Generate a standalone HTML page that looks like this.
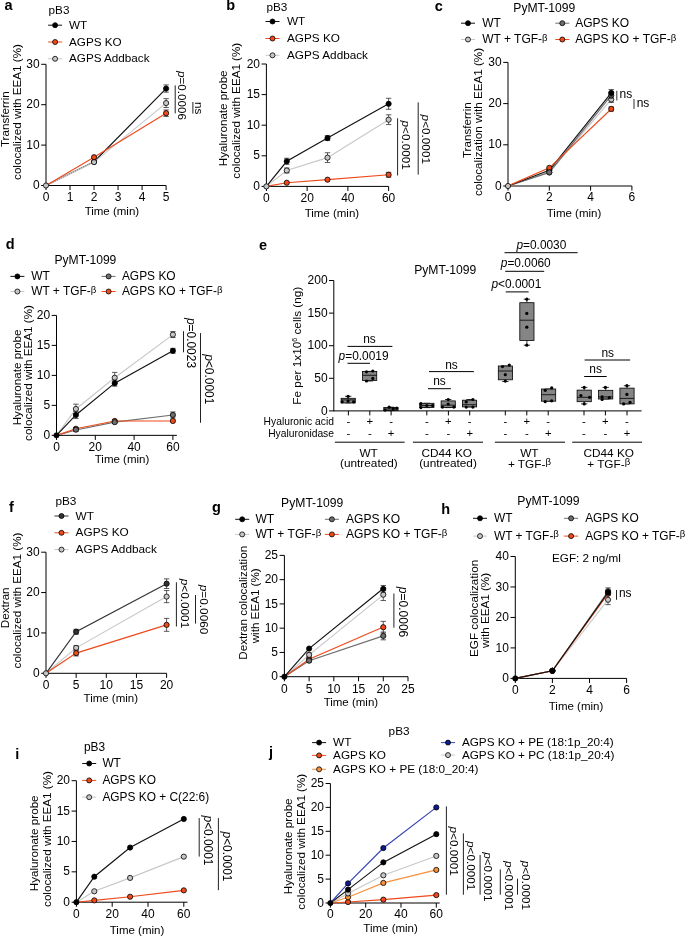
<!DOCTYPE html>
<html><head><meta charset="utf-8"><style>
html,body{margin:0;padding:0;background:#fff;}
svg{display:block;will-change:transform;}
text{font-family:"Liberation Sans",sans-serif;}
</style></head><body>
<svg width="685" height="936" viewBox="0 0 685 936" font-family="Liberation Sans, sans-serif">
<rect width="685" height="936" fill="#fff"/>
<text x="4.40" y="10.40" font-size="14.5" font-weight="bold">a</text>
<text x="48.60" y="14.00" font-size="11.7">pB3</text>
<line x1="48.10" y1="25.20" x2="62.10" y2="25.20" stroke="#111111" stroke-width="1.0"/>
<circle cx="55.10" cy="25.20" r="2.5" fill="#000000" stroke="#000" stroke-width="0.8"/>
<text x="69.00" y="28.80" font-size="11.7">WT</text>
<line x1="48.10" y1="42.00" x2="62.10" y2="42.00" stroke="#EE4A1A" stroke-width="1.0"/>
<circle cx="55.10" cy="42.00" r="2.5" fill="#EE4A1A" stroke="#000" stroke-width="0.8"/>
<text x="69.00" y="45.60" font-size="11.7">AGPS KO</text>
<line x1="48.10" y1="58.80" x2="62.10" y2="58.80" stroke="#C8C8C8" stroke-width="1.0"/>
<circle cx="55.10" cy="58.80" r="2.5" fill="#C6C6C6" stroke="#000" stroke-width="0.8"/>
<text x="69.00" y="62.40" font-size="11.7">AGPS Addback</text>
<line x1="46.00" y1="64.30" x2="46.00" y2="185.50" stroke="#000" stroke-width="1.0"/>
<line x1="46.00" y1="185.50" x2="166.10" y2="185.50" stroke="#000" stroke-width="1.0"/>
<line x1="41.20" y1="185.50" x2="46.00" y2="185.50" stroke="#000" stroke-width="1.0"/>
<text x="39.60" y="189.10" font-size="12.0" text-anchor="end">0</text>
<line x1="41.20" y1="145.10" x2="46.00" y2="145.10" stroke="#000" stroke-width="1.0"/>
<text x="39.60" y="148.70" font-size="12.0" text-anchor="end">10</text>
<line x1="41.20" y1="104.70" x2="46.00" y2="104.70" stroke="#000" stroke-width="1.0"/>
<text x="39.60" y="108.30" font-size="12.0" text-anchor="end">20</text>
<line x1="41.20" y1="64.30" x2="46.00" y2="64.30" stroke="#000" stroke-width="1.0"/>
<text x="39.60" y="67.90" font-size="12.0" text-anchor="end">30</text>
<line x1="46.00" y1="185.50" x2="46.00" y2="190.10" stroke="#000" stroke-width="1.0"/>
<text x="46.00" y="200.80" font-size="12.0" text-anchor="middle">0</text>
<line x1="70.02" y1="185.50" x2="70.02" y2="190.10" stroke="#000" stroke-width="1.0"/>
<text x="70.02" y="200.80" font-size="12.0" text-anchor="middle">1</text>
<line x1="94.04" y1="185.50" x2="94.04" y2="190.10" stroke="#000" stroke-width="1.0"/>
<text x="94.04" y="200.80" font-size="12.0" text-anchor="middle">2</text>
<line x1="118.06" y1="185.50" x2="118.06" y2="190.10" stroke="#000" stroke-width="1.0"/>
<text x="118.06" y="200.80" font-size="12.0" text-anchor="middle">3</text>
<line x1="142.08" y1="185.50" x2="142.08" y2="190.10" stroke="#000" stroke-width="1.0"/>
<text x="142.08" y="200.80" font-size="12.0" text-anchor="middle">4</text>
<line x1="166.10" y1="185.50" x2="166.10" y2="190.10" stroke="#000" stroke-width="1.0"/>
<text x="166.10" y="200.80" font-size="12.0" text-anchor="middle">5</text>
<text transform="translate(8.80,119.20) rotate(-90)" font-size="11.65" text-anchor="middle">Transferrin</text>
<text transform="translate(21.00,112.00) rotate(-90)" font-size="11.65" text-anchor="middle">colocalized with EEA1 (%)</text>
<text x="111.90" y="215.20" font-size="11.5" text-anchor="middle">Time (min)</text>
<polyline points="46.00,185.50 94.04,161.66 166.10,88.54" fill="none" stroke="#111111" stroke-width="1.15"/>
<polyline points="46.00,185.50 94.04,162.07 166.10,103.08" fill="none" stroke="#C8C8C8" stroke-width="1.15"/>
<polyline points="46.00,185.50 94.04,157.22 166.10,113.18" fill="none" stroke="#EE4A1A" stroke-width="1.15"/>
<circle cx="94.04" cy="161.66" r="2.6" fill="#000000" stroke="#000" stroke-width="0.8"/>
<line x1="166.10" y1="84.90" x2="166.10" y2="92.18" stroke="#333" stroke-width="0.8"/>
<line x1="163.40" y1="84.90" x2="168.80" y2="84.90" stroke="#333" stroke-width="0.8"/>
<line x1="163.40" y1="92.18" x2="168.80" y2="92.18" stroke="#333" stroke-width="0.8"/>
<circle cx="166.10" cy="88.54" r="2.6" fill="#000000" stroke="#000" stroke-width="0.8"/>
<circle cx="46.00" cy="185.50" r="2.6" fill="#C6C6C6" stroke="#000" stroke-width="0.8"/>
<circle cx="94.04" cy="162.07" r="2.6" fill="#C6C6C6" stroke="#000" stroke-width="0.8"/>
<line x1="166.10" y1="98.64" x2="166.10" y2="107.53" stroke="#333" stroke-width="0.8"/>
<line x1="163.40" y1="98.64" x2="168.80" y2="98.64" stroke="#333" stroke-width="0.8"/>
<line x1="163.40" y1="107.53" x2="168.80" y2="107.53" stroke="#333" stroke-width="0.8"/>
<circle cx="166.10" cy="103.08" r="2.6" fill="#C6C6C6" stroke="#000" stroke-width="0.8"/>
<circle cx="94.04" cy="157.22" r="2.6" fill="#EE4A1A" stroke="#000" stroke-width="0.8"/>
<line x1="166.10" y1="109.95" x2="166.10" y2="116.42" stroke="#333" stroke-width="0.8"/>
<line x1="163.40" y1="109.95" x2="168.80" y2="109.95" stroke="#333" stroke-width="0.8"/>
<line x1="163.40" y1="116.42" x2="168.80" y2="116.42" stroke="#333" stroke-width="0.8"/>
<circle cx="166.10" cy="113.18" r="2.6" fill="#EE4A1A" stroke="#000" stroke-width="0.8"/>
<line x1="175.20" y1="85.40" x2="175.20" y2="113.40" stroke="#222" stroke-width="1.0"/>
<text transform="translate(177.90,71.00) rotate(90)" font-size="11.7"><tspan font-style="italic">p</tspan>=0.0006</text>
<line x1="192.90" y1="102.00" x2="192.90" y2="113.60" stroke="#222" stroke-width="1.0"/>
<text transform="translate(195.40,102.00) rotate(90)" font-size="11.7">ns</text>
<text x="226.30" y="10.40" font-size="14.5" font-weight="bold">b</text>
<text x="266.50" y="11.40" font-size="11.75">pB3</text>
<line x1="265.50" y1="21.50" x2="279.50" y2="21.50" stroke="#111111" stroke-width="1.0"/>
<circle cx="272.50" cy="21.50" r="2.5" fill="#000000" stroke="#000" stroke-width="0.8"/>
<text x="287.00" y="25.10" font-size="11.75">WT</text>
<line x1="265.50" y1="38.50" x2="279.50" y2="38.50" stroke="#EE4A1A" stroke-width="1.0"/>
<circle cx="272.50" cy="38.50" r="2.5" fill="#EE4A1A" stroke="#000" stroke-width="0.8"/>
<text x="287.00" y="42.10" font-size="11.75">AGPS KO</text>
<line x1="265.50" y1="55.30" x2="279.50" y2="55.30" stroke="#C8C8C8" stroke-width="1.0"/>
<circle cx="272.50" cy="55.30" r="2.5" fill="#C6C6C6" stroke="#000" stroke-width="0.8"/>
<text x="287.00" y="58.90" font-size="11.75">AGPS Addback</text>
<line x1="266.40" y1="64.00" x2="266.40" y2="186.40" stroke="#000" stroke-width="1.0"/>
<line x1="266.40" y1="186.40" x2="388.62" y2="186.40" stroke="#000" stroke-width="1.0"/>
<line x1="261.60" y1="186.40" x2="266.40" y2="186.40" stroke="#000" stroke-width="1.0"/>
<text x="260.00" y="190.00" font-size="12.0" text-anchor="end">0</text>
<line x1="261.60" y1="155.80" x2="266.40" y2="155.80" stroke="#000" stroke-width="1.0"/>
<text x="260.00" y="159.40" font-size="12.0" text-anchor="end">5</text>
<line x1="261.60" y1="125.20" x2="266.40" y2="125.20" stroke="#000" stroke-width="1.0"/>
<text x="260.00" y="128.80" font-size="12.0" text-anchor="end">10</text>
<line x1="261.60" y1="94.60" x2="266.40" y2="94.60" stroke="#000" stroke-width="1.0"/>
<text x="260.00" y="98.20" font-size="12.0" text-anchor="end">15</text>
<line x1="261.60" y1="64.00" x2="266.40" y2="64.00" stroke="#000" stroke-width="1.0"/>
<text x="260.00" y="67.60" font-size="12.0" text-anchor="end">20</text>
<line x1="266.40" y1="186.40" x2="266.40" y2="191.00" stroke="#000" stroke-width="1.0"/>
<text x="266.40" y="201.70" font-size="12.0" text-anchor="middle">0</text>
<line x1="307.14" y1="186.40" x2="307.14" y2="191.00" stroke="#000" stroke-width="1.0"/>
<text x="307.14" y="201.70" font-size="12.0" text-anchor="middle">20</text>
<line x1="347.88" y1="186.40" x2="347.88" y2="191.00" stroke="#000" stroke-width="1.0"/>
<text x="347.88" y="201.70" font-size="12.0" text-anchor="middle">40</text>
<line x1="388.62" y1="186.40" x2="388.62" y2="191.00" stroke="#000" stroke-width="1.0"/>
<text x="388.62" y="201.70" font-size="12.0" text-anchor="middle">60</text>
<text transform="translate(227.00,118.30) rotate(-90)" font-size="11.65" text-anchor="middle">Hyaluronate probe</text>
<text transform="translate(239.80,110.70) rotate(-90)" font-size="11.65" text-anchor="middle">colocalized with EEA1 (%)</text>
<text x="331.90" y="217.40" font-size="11.5" text-anchor="middle">Time (min)</text>
<polyline points="266.40,186.40 286.77,170.49 327.51,157.64 388.62,119.69" fill="none" stroke="#C8C8C8" stroke-width="1.15"/>
<polyline points="266.40,186.40 286.77,161.31 327.51,138.05 388.62,103.78" fill="none" stroke="#111111" stroke-width="1.15"/>
<polyline points="266.40,186.40 286.77,182.73 327.51,179.67 388.62,174.77" fill="none" stroke="#EE4A1A" stroke-width="1.15"/>
<circle cx="266.40" cy="186.40" r="2.6" fill="#C6C6C6" stroke="#000" stroke-width="0.8"/>
<line x1="286.77" y1="168.04" x2="286.77" y2="172.94" stroke="#333" stroke-width="0.8"/>
<line x1="284.07" y1="168.04" x2="289.47" y2="168.04" stroke="#333" stroke-width="0.8"/>
<line x1="284.07" y1="172.94" x2="289.47" y2="172.94" stroke="#333" stroke-width="0.8"/>
<circle cx="286.77" cy="170.49" r="2.6" fill="#C6C6C6" stroke="#000" stroke-width="0.8"/>
<line x1="327.51" y1="152.74" x2="327.51" y2="162.53" stroke="#333" stroke-width="0.8"/>
<line x1="324.81" y1="152.74" x2="330.21" y2="152.74" stroke="#333" stroke-width="0.8"/>
<line x1="324.81" y1="162.53" x2="330.21" y2="162.53" stroke="#333" stroke-width="0.8"/>
<circle cx="327.51" cy="157.64" r="2.6" fill="#C6C6C6" stroke="#000" stroke-width="0.8"/>
<line x1="388.62" y1="114.80" x2="388.62" y2="124.59" stroke="#333" stroke-width="0.8"/>
<line x1="385.92" y1="114.80" x2="391.32" y2="114.80" stroke="#333" stroke-width="0.8"/>
<line x1="385.92" y1="124.59" x2="391.32" y2="124.59" stroke="#333" stroke-width="0.8"/>
<circle cx="388.62" cy="119.69" r="2.6" fill="#C6C6C6" stroke="#000" stroke-width="0.8"/>
<line x1="286.77" y1="158.25" x2="286.77" y2="164.37" stroke="#333" stroke-width="0.8"/>
<line x1="284.07" y1="158.25" x2="289.47" y2="158.25" stroke="#333" stroke-width="0.8"/>
<line x1="284.07" y1="164.37" x2="289.47" y2="164.37" stroke="#333" stroke-width="0.8"/>
<circle cx="286.77" cy="161.31" r="2.6" fill="#000000" stroke="#000" stroke-width="0.8"/>
<line x1="327.51" y1="135.60" x2="327.51" y2="140.50" stroke="#333" stroke-width="0.8"/>
<line x1="324.81" y1="135.60" x2="330.21" y2="135.60" stroke="#333" stroke-width="0.8"/>
<line x1="324.81" y1="140.50" x2="330.21" y2="140.50" stroke="#333" stroke-width="0.8"/>
<circle cx="327.51" cy="138.05" r="2.6" fill="#000000" stroke="#000" stroke-width="0.8"/>
<line x1="388.62" y1="98.27" x2="388.62" y2="109.29" stroke="#333" stroke-width="0.8"/>
<line x1="385.92" y1="98.27" x2="391.32" y2="98.27" stroke="#333" stroke-width="0.8"/>
<line x1="385.92" y1="109.29" x2="391.32" y2="109.29" stroke="#333" stroke-width="0.8"/>
<circle cx="388.62" cy="103.78" r="2.6" fill="#000000" stroke="#000" stroke-width="0.8"/>
<circle cx="286.77" cy="182.73" r="2.6" fill="#EE4A1A" stroke="#000" stroke-width="0.8"/>
<circle cx="327.51" cy="179.67" r="2.6" fill="#EE4A1A" stroke="#000" stroke-width="0.8"/>
<line x1="388.62" y1="172.32" x2="388.62" y2="177.22" stroke="#333" stroke-width="0.8"/>
<line x1="385.92" y1="172.32" x2="391.32" y2="172.32" stroke="#333" stroke-width="0.8"/>
<line x1="385.92" y1="177.22" x2="391.32" y2="177.22" stroke="#333" stroke-width="0.8"/>
<circle cx="388.62" cy="174.77" r="2.6" fill="#EE4A1A" stroke="#000" stroke-width="0.8"/>
<line x1="397.60" y1="118.30" x2="397.60" y2="175.50" stroke="#222" stroke-width="1.0"/>
<text transform="translate(401.80,120.50) rotate(90)" font-size="11.75"><tspan font-style="italic">p</tspan>&lt;0.0001</text>
<line x1="418.20" y1="102.40" x2="418.20" y2="174.60" stroke="#222" stroke-width="1.0"/>
<text transform="translate(422.20,114.60) rotate(90)" font-size="11.75"><tspan font-style="italic">p</tspan>&lt;0.0001</text>
<text x="434.80" y="10.70" font-size="14.5" font-weight="bold">c</text>
<text x="513.30" y="11.50" font-size="12.15">PyMT-1099</text>
<line x1="461.00" y1="23.20" x2="475.00" y2="23.20" stroke="#111111" stroke-width="1.0"/>
<circle cx="468.00" cy="23.20" r="2.5" fill="#000000" stroke="#000" stroke-width="0.8"/>
<text x="482.20" y="26.80" font-size="12.0">WT</text>
<line x1="555.30" y1="23.20" x2="569.30" y2="23.20" stroke="#6E6E6E" stroke-width="1.0"/>
<circle cx="562.30" cy="23.20" r="2.5" fill="#6E6E6E" stroke="#000" stroke-width="0.8"/>
<text x="575.20" y="26.80" font-size="12.0">AGPS KO</text>
<line x1="461.00" y1="39.50" x2="475.00" y2="39.50" stroke="#C8C8C8" stroke-width="1.0"/>
<circle cx="468.00" cy="39.50" r="2.5" fill="#C6C6C6" stroke="#000" stroke-width="0.8"/>
<text x="482.20" y="43.10" font-size="12.0">WT + TGF-<tspan font-size="9.6" dy="-2.3">β</tspan></text>
<line x1="555.30" y1="39.50" x2="569.30" y2="39.50" stroke="#EE4A1A" stroke-width="1.0"/>
<circle cx="562.30" cy="39.50" r="2.5" fill="#EE4A1A" stroke="#000" stroke-width="0.8"/>
<text x="575.20" y="43.10" font-size="12.0">AGPS KO + TGF-<tspan font-size="9.6" dy="-2.3">β</tspan></text>
<line x1="508.00" y1="62.40" x2="508.00" y2="186.00" stroke="#000" stroke-width="1.0"/>
<line x1="508.00" y1="186.00" x2="631.90" y2="186.00" stroke="#000" stroke-width="1.0"/>
<line x1="503.20" y1="186.00" x2="508.00" y2="186.00" stroke="#000" stroke-width="1.0"/>
<text x="501.60" y="189.60" font-size="12.0" text-anchor="end">0</text>
<line x1="503.20" y1="144.80" x2="508.00" y2="144.80" stroke="#000" stroke-width="1.0"/>
<text x="501.60" y="148.40" font-size="12.0" text-anchor="end">10</text>
<line x1="503.20" y1="103.60" x2="508.00" y2="103.60" stroke="#000" stroke-width="1.0"/>
<text x="501.60" y="107.20" font-size="12.0" text-anchor="end">20</text>
<line x1="503.20" y1="62.40" x2="508.00" y2="62.40" stroke="#000" stroke-width="1.0"/>
<text x="501.60" y="66.00" font-size="12.0" text-anchor="end">30</text>
<line x1="508.00" y1="186.00" x2="508.00" y2="190.60" stroke="#000" stroke-width="1.0"/>
<text x="508.00" y="201.30" font-size="12.0" text-anchor="middle">0</text>
<line x1="549.30" y1="186.00" x2="549.30" y2="190.60" stroke="#000" stroke-width="1.0"/>
<text x="549.30" y="201.30" font-size="12.0" text-anchor="middle">2</text>
<line x1="590.60" y1="186.00" x2="590.60" y2="190.60" stroke="#000" stroke-width="1.0"/>
<text x="590.60" y="201.30" font-size="12.0" text-anchor="middle">4</text>
<line x1="631.90" y1="186.00" x2="631.90" y2="190.60" stroke="#000" stroke-width="1.0"/>
<text x="631.90" y="201.30" font-size="12.0" text-anchor="middle">6</text>
<text transform="translate(471.20,130.20) rotate(-90)" font-size="11.65" text-anchor="middle">Transferrin</text>
<text transform="translate(482.00,122.00) rotate(-90)" font-size="11.65" text-anchor="middle">colocalization with EEA1 (%)</text>
<text x="574.00" y="216.50" font-size="11.5" text-anchor="middle">Time (min)</text>
<polyline points="508.00,186.00 549.30,172.40 611.25,99.48" fill="none" stroke="#C8C8C8" stroke-width="1.15"/>
<polyline points="508.00,186.00 549.30,172.40 611.25,95.36" fill="none" stroke="#6E6E6E" stroke-width="1.15"/>
<polyline points="508.00,186.00 549.30,170.34 611.25,92.89" fill="none" stroke="#111111" stroke-width="1.15"/>
<polyline points="508.00,186.00 549.30,167.87 611.25,108.96" fill="none" stroke="#EE4A1A" stroke-width="1.15"/>
<circle cx="549.30" cy="170.34" r="2.6" fill="#000000" stroke="#000" stroke-width="0.8"/>
<circle cx="508.00" cy="186.00" r="2.6" fill="#C6C6C6" stroke="#000" stroke-width="0.8"/>
<circle cx="549.30" cy="172.40" r="2.6" fill="#C6C6C6" stroke="#000" stroke-width="0.8"/>
<line x1="611.25" y1="96.60" x2="611.25" y2="102.36" stroke="#333" stroke-width="0.8"/>
<line x1="608.55" y1="96.60" x2="613.95" y2="96.60" stroke="#333" stroke-width="0.8"/>
<line x1="608.55" y1="102.36" x2="613.95" y2="102.36" stroke="#333" stroke-width="0.8"/>
<circle cx="611.25" cy="99.48" r="2.6" fill="#C6C6C6" stroke="#000" stroke-width="0.8"/>
<circle cx="549.30" cy="167.87" r="2.6" fill="#EE4A1A" stroke="#000" stroke-width="0.8"/>
<line x1="611.25" y1="106.90" x2="611.25" y2="111.02" stroke="#333" stroke-width="0.8"/>
<line x1="608.55" y1="106.90" x2="613.95" y2="106.90" stroke="#333" stroke-width="0.8"/>
<line x1="608.55" y1="111.02" x2="613.95" y2="111.02" stroke="#333" stroke-width="0.8"/>
<circle cx="611.25" cy="108.96" r="2.6" fill="#EE4A1A" stroke="#000" stroke-width="0.8"/>
<circle cx="549.30" cy="172.40" r="2.6" fill="#6E6E6E" stroke="#000" stroke-width="0.8"/>
<line x1="611.25" y1="92.48" x2="611.25" y2="98.24" stroke="#333" stroke-width="0.8"/>
<line x1="608.55" y1="92.48" x2="613.95" y2="92.48" stroke="#333" stroke-width="0.8"/>
<line x1="608.55" y1="98.24" x2="613.95" y2="98.24" stroke="#333" stroke-width="0.8"/>
<circle cx="611.25" cy="95.36" r="2.6" fill="#6E6E6E" stroke="#000" stroke-width="0.8"/>
<line x1="611.25" y1="89.59" x2="611.25" y2="96.18" stroke="#333" stroke-width="0.8"/>
<line x1="608.55" y1="89.59" x2="613.95" y2="89.59" stroke="#333" stroke-width="0.8"/>
<line x1="608.55" y1="96.18" x2="613.95" y2="96.18" stroke="#333" stroke-width="0.8"/>
<circle cx="611.25" cy="92.89" r="2.6" fill="#000000" stroke="#000" stroke-width="0.8"/>
<line x1="616.80" y1="90.80" x2="616.80" y2="100.50" stroke="#333" stroke-width="1.0"/>
<text x="619.50" y="98.40" font-size="12.0">ns</text>
<line x1="634.00" y1="99.00" x2="634.00" y2="108.90" stroke="#333" stroke-width="1.0"/>
<text x="636.70" y="106.80" font-size="12.0">ns</text>
<text x="5.80" y="249.40" font-size="14.5" font-weight="bold">d</text>
<text x="54.50" y="264.20" font-size="12.1">PyMT-1099</text>
<line x1="10.40" y1="276.40" x2="24.40" y2="276.40" stroke="#111111" stroke-width="1.0"/>
<circle cx="17.40" cy="276.40" r="2.5" fill="#000000" stroke="#000" stroke-width="0.8"/>
<text x="31.20" y="280.00" font-size="11.95">WT</text>
<line x1="101.60" y1="276.40" x2="115.60" y2="276.40" stroke="#6E6E6E" stroke-width="1.0"/>
<circle cx="108.60" cy="276.40" r="2.5" fill="#6E6E6E" stroke="#000" stroke-width="0.8"/>
<text x="121.90" y="280.00" font-size="11.95">AGPS KO</text>
<line x1="10.40" y1="291.50" x2="24.40" y2="291.50" stroke="#C8C8C8" stroke-width="1.0"/>
<circle cx="17.40" cy="291.50" r="2.5" fill="#C6C6C6" stroke="#000" stroke-width="0.8"/>
<text x="31.20" y="295.10" font-size="11.95">WT + TGF-<tspan font-size="9.6" dy="-2.3">β</tspan></text>
<line x1="101.60" y1="291.50" x2="115.60" y2="291.50" stroke="#EE4A1A" stroke-width="1.0"/>
<circle cx="108.60" cy="291.50" r="2.5" fill="#EE4A1A" stroke="#000" stroke-width="0.8"/>
<text x="121.90" y="295.10" font-size="11.95">AGPS KO + TGF-<tspan font-size="9.6" dy="-2.3">β</tspan></text>
<line x1="56.50" y1="315.40" x2="56.50" y2="435.35" stroke="#000" stroke-width="1.0"/>
<line x1="56.50" y1="435.35" x2="176.90" y2="435.35" stroke="#000" stroke-width="1.0"/>
<line x1="51.70" y1="435.35" x2="56.50" y2="435.35" stroke="#000" stroke-width="1.0"/>
<text x="50.10" y="438.95" font-size="12.0" text-anchor="end">0</text>
<line x1="51.70" y1="405.36" x2="56.50" y2="405.36" stroke="#000" stroke-width="1.0"/>
<text x="50.10" y="408.96" font-size="12.0" text-anchor="end">5</text>
<line x1="51.70" y1="375.38" x2="56.50" y2="375.38" stroke="#000" stroke-width="1.0"/>
<text x="50.10" y="378.98" font-size="12.0" text-anchor="end">10</text>
<line x1="51.70" y1="345.39" x2="56.50" y2="345.39" stroke="#000" stroke-width="1.0"/>
<text x="50.10" y="348.99" font-size="12.0" text-anchor="end">15</text>
<line x1="51.70" y1="315.40" x2="56.50" y2="315.40" stroke="#000" stroke-width="1.0"/>
<text x="50.10" y="319.00" font-size="12.0" text-anchor="end">20</text>
<line x1="56.50" y1="435.35" x2="56.50" y2="439.95" stroke="#000" stroke-width="1.0"/>
<text x="56.50" y="450.65" font-size="12.0" text-anchor="middle">0</text>
<line x1="95.30" y1="435.35" x2="95.30" y2="439.95" stroke="#000" stroke-width="1.0"/>
<text x="95.30" y="450.65" font-size="12.0" text-anchor="middle">20</text>
<line x1="134.10" y1="435.35" x2="134.10" y2="439.95" stroke="#000" stroke-width="1.0"/>
<text x="134.10" y="450.65" font-size="12.0" text-anchor="middle">40</text>
<line x1="172.90" y1="435.35" x2="172.90" y2="439.95" stroke="#000" stroke-width="1.0"/>
<text x="172.90" y="450.65" font-size="12.0" text-anchor="middle">60</text>
<text transform="translate(21.20,377.40) rotate(-90)" font-size="11.65" text-anchor="middle">Hyaluronate probe</text>
<text transform="translate(32.40,373.00) rotate(-90)" font-size="11.65" text-anchor="middle">colocalized with EEA1 (%)</text>
<text x="122.00" y="463.00" font-size="11.5" text-anchor="middle">Time (min)</text>
<polyline points="56.50,435.35 75.90,408.96 114.70,377.77 172.90,334.59" fill="none" stroke="#C8C8C8" stroke-width="1.15"/>
<polyline points="56.50,435.35 75.90,414.96 114.70,383.17 172.90,350.79" fill="none" stroke="#111111" stroke-width="1.15"/>
<polyline points="56.50,435.35 75.90,429.95 114.70,422.16 172.90,414.96" fill="none" stroke="#6E6E6E" stroke-width="1.15"/>
<polyline points="56.50,435.35 75.90,428.75 114.70,420.96 172.90,420.96" fill="none" stroke="#EE4A1A" stroke-width="1.15"/>
<line x1="75.90" y1="404.16" x2="75.90" y2="413.76" stroke="#333" stroke-width="0.8"/>
<line x1="73.20" y1="404.16" x2="78.60" y2="404.16" stroke="#333" stroke-width="0.8"/>
<line x1="73.20" y1="413.76" x2="78.60" y2="413.76" stroke="#333" stroke-width="0.8"/>
<circle cx="75.90" cy="408.96" r="2.6" fill="#C6C6C6" stroke="#000" stroke-width="0.8"/>
<line x1="114.70" y1="372.38" x2="114.70" y2="383.17" stroke="#333" stroke-width="0.8"/>
<line x1="112.00" y1="372.38" x2="117.40" y2="372.38" stroke="#333" stroke-width="0.8"/>
<line x1="112.00" y1="383.17" x2="117.40" y2="383.17" stroke="#333" stroke-width="0.8"/>
<circle cx="114.70" cy="377.77" r="2.6" fill="#C6C6C6" stroke="#000" stroke-width="0.8"/>
<line x1="172.90" y1="331.59" x2="172.90" y2="337.59" stroke="#333" stroke-width="0.8"/>
<line x1="170.20" y1="331.59" x2="175.60" y2="331.59" stroke="#333" stroke-width="0.8"/>
<line x1="170.20" y1="337.59" x2="175.60" y2="337.59" stroke="#333" stroke-width="0.8"/>
<circle cx="172.90" cy="334.59" r="2.6" fill="#C6C6C6" stroke="#000" stroke-width="0.8"/>
<line x1="75.90" y1="427.55" x2="75.90" y2="429.95" stroke="#333" stroke-width="0.8"/>
<line x1="73.20" y1="427.55" x2="78.60" y2="427.55" stroke="#333" stroke-width="0.8"/>
<line x1="73.20" y1="429.95" x2="78.60" y2="429.95" stroke="#333" stroke-width="0.8"/>
<circle cx="75.90" cy="428.75" r="2.6" fill="#EE4A1A" stroke="#000" stroke-width="0.8"/>
<circle cx="114.70" cy="420.96" r="2.6" fill="#EE4A1A" stroke="#000" stroke-width="0.8"/>
<circle cx="172.90" cy="420.96" r="2.6" fill="#EE4A1A" stroke="#000" stroke-width="0.8"/>
<line x1="75.90" y1="427.85" x2="75.90" y2="431.45" stroke="#333" stroke-width="0.8"/>
<line x1="73.20" y1="427.85" x2="78.60" y2="427.85" stroke="#333" stroke-width="0.8"/>
<line x1="73.20" y1="431.45" x2="78.60" y2="431.45" stroke="#333" stroke-width="0.8"/>
<circle cx="75.90" cy="429.65" r="2.6" fill="#6E6E6E" stroke="#000" stroke-width="0.8"/>
<line x1="114.70" y1="420.96" x2="114.70" y2="423.36" stroke="#333" stroke-width="0.8"/>
<line x1="112.00" y1="420.96" x2="117.40" y2="420.96" stroke="#333" stroke-width="0.8"/>
<line x1="112.00" y1="423.36" x2="117.40" y2="423.36" stroke="#333" stroke-width="0.8"/>
<circle cx="114.70" cy="422.16" r="2.6" fill="#6E6E6E" stroke="#000" stroke-width="0.8"/>
<line x1="172.90" y1="411.96" x2="172.90" y2="417.96" stroke="#333" stroke-width="0.8"/>
<line x1="170.20" y1="411.96" x2="175.60" y2="411.96" stroke="#333" stroke-width="0.8"/>
<line x1="170.20" y1="417.96" x2="175.60" y2="417.96" stroke="#333" stroke-width="0.8"/>
<circle cx="172.90" cy="414.96" r="2.6" fill="#6E6E6E" stroke="#000" stroke-width="0.8"/>
<circle cx="56.50" cy="435.35" r="2.6" fill="#000000" stroke="#000" stroke-width="0.8"/>
<line x1="75.90" y1="411.36" x2="75.90" y2="418.56" stroke="#333" stroke-width="0.8"/>
<line x1="73.20" y1="411.36" x2="78.60" y2="411.36" stroke="#333" stroke-width="0.8"/>
<line x1="73.20" y1="418.56" x2="78.60" y2="418.56" stroke="#333" stroke-width="0.8"/>
<circle cx="75.90" cy="414.96" r="2.6" fill="#000000" stroke="#000" stroke-width="0.8"/>
<line x1="114.70" y1="380.17" x2="114.70" y2="386.17" stroke="#333" stroke-width="0.8"/>
<line x1="112.00" y1="380.17" x2="117.40" y2="380.17" stroke="#333" stroke-width="0.8"/>
<line x1="112.00" y1="386.17" x2="117.40" y2="386.17" stroke="#333" stroke-width="0.8"/>
<circle cx="114.70" cy="383.17" r="2.6" fill="#000000" stroke="#000" stroke-width="0.8"/>
<line x1="172.90" y1="348.39" x2="172.90" y2="353.18" stroke="#333" stroke-width="0.8"/>
<line x1="170.20" y1="348.39" x2="175.60" y2="348.39" stroke="#333" stroke-width="0.8"/>
<line x1="170.20" y1="353.18" x2="175.60" y2="353.18" stroke="#333" stroke-width="0.8"/>
<circle cx="172.90" cy="350.79" r="2.6" fill="#000000" stroke="#000" stroke-width="0.8"/>
<line x1="183.50" y1="331.20" x2="183.50" y2="352.30" stroke="#222" stroke-width="1.0"/>
<text transform="translate(186.60,317.90) rotate(90)" font-size="11.95"><tspan font-style="italic">p</tspan>=0.0023</text>
<line x1="200.50" y1="333.10" x2="200.50" y2="422.80" stroke="#222" stroke-width="1.0"/>
<text transform="translate(205.20,354.20) rotate(90)" font-size="11.95"><tspan font-style="italic">p</tspan>&lt;0.0001</text>
<text x="259.00" y="249.70" font-size="14.5" font-weight="bold">e</text>
<text x="414.20" y="274.20" font-size="12.15">PyMT-1099</text>
<line x1="333.80" y1="280.50" x2="333.80" y2="411.40" stroke="#000" stroke-width="1.0"/>
<line x1="333.80" y1="410.90" x2="641.60" y2="410.90" stroke="#000" stroke-width="1.0"/>
<line x1="329.00" y1="410.90" x2="333.80" y2="410.90" stroke="#000" stroke-width="1.0"/>
<text x="327.60" y="414.50" font-size="12.0" text-anchor="end">0</text>
<line x1="329.00" y1="378.30" x2="333.80" y2="378.30" stroke="#000" stroke-width="1.0"/>
<text x="327.60" y="381.90" font-size="12.0" text-anchor="end">50</text>
<line x1="329.00" y1="345.70" x2="333.80" y2="345.70" stroke="#000" stroke-width="1.0"/>
<text x="327.60" y="349.30" font-size="12.0" text-anchor="end">100</text>
<line x1="329.00" y1="313.10" x2="333.80" y2="313.10" stroke="#000" stroke-width="1.0"/>
<text x="327.60" y="316.70" font-size="12.0" text-anchor="end">150</text>
<line x1="329.00" y1="280.50" x2="333.80" y2="280.50" stroke="#000" stroke-width="1.0"/>
<text x="327.60" y="284.10" font-size="12.0" text-anchor="end">200</text>
<text transform="translate(300.90,345.70) rotate(-90)" font-size="11.8" text-anchor="middle">Fe per 1x10<tspan font-size="7" dy="-4">6</tspan><tspan dy="4"> cells (ng)</tspan></text>
<line x1="348.40" y1="410.90" x2="348.40" y2="415.40" stroke="#000" stroke-width="1.0"/>
<line x1="369.80" y1="410.90" x2="369.80" y2="415.40" stroke="#000" stroke-width="1.0"/>
<line x1="391.10" y1="410.90" x2="391.10" y2="415.40" stroke="#000" stroke-width="1.0"/>
<line x1="426.80" y1="410.90" x2="426.80" y2="415.40" stroke="#000" stroke-width="1.0"/>
<line x1="448.40" y1="410.90" x2="448.40" y2="415.40" stroke="#000" stroke-width="1.0"/>
<line x1="469.70" y1="410.90" x2="469.70" y2="415.40" stroke="#000" stroke-width="1.0"/>
<line x1="505.30" y1="410.90" x2="505.30" y2="415.40" stroke="#000" stroke-width="1.0"/>
<line x1="526.80" y1="410.90" x2="526.80" y2="415.40" stroke="#000" stroke-width="1.0"/>
<line x1="548.20" y1="410.90" x2="548.20" y2="415.40" stroke="#000" stroke-width="1.0"/>
<line x1="584.00" y1="410.90" x2="584.00" y2="415.40" stroke="#000" stroke-width="1.0"/>
<line x1="605.40" y1="410.90" x2="605.40" y2="415.40" stroke="#000" stroke-width="1.0"/>
<line x1="627.00" y1="410.90" x2="627.00" y2="415.40" stroke="#000" stroke-width="1.0"/>
<text x="334.00" y="424.70" font-size="10.3" text-anchor="end">Hyaluronic acid</text>
<text x="334.00" y="437.00" font-size="10.3" text-anchor="end">Hyaluronidase</text>
<text x="348.40" y="425.00" font-size="11.3" text-anchor="middle">-</text>
<text x="348.40" y="437.20" font-size="11.3" text-anchor="middle">-</text>
<text x="369.80" y="425.00" font-size="11.3" text-anchor="middle">+</text>
<text x="369.80" y="437.20" font-size="11.3" text-anchor="middle">-</text>
<text x="391.10" y="425.00" font-size="11.3" text-anchor="middle">-</text>
<text x="391.10" y="437.20" font-size="11.3" text-anchor="middle">+</text>
<text x="426.80" y="425.00" font-size="11.3" text-anchor="middle">-</text>
<text x="426.80" y="437.20" font-size="11.3" text-anchor="middle">-</text>
<text x="448.40" y="425.00" font-size="11.3" text-anchor="middle">+</text>
<text x="448.40" y="437.20" font-size="11.3" text-anchor="middle">-</text>
<text x="469.70" y="425.00" font-size="11.3" text-anchor="middle">-</text>
<text x="469.70" y="437.20" font-size="11.3" text-anchor="middle">+</text>
<text x="505.30" y="425.00" font-size="11.3" text-anchor="middle">-</text>
<text x="505.30" y="437.20" font-size="11.3" text-anchor="middle">-</text>
<text x="526.80" y="425.00" font-size="11.3" text-anchor="middle">+</text>
<text x="526.80" y="437.20" font-size="11.3" text-anchor="middle">-</text>
<text x="548.20" y="425.00" font-size="11.3" text-anchor="middle">-</text>
<text x="548.20" y="437.20" font-size="11.3" text-anchor="middle">+</text>
<text x="584.00" y="425.00" font-size="11.3" text-anchor="middle">-</text>
<text x="584.00" y="437.20" font-size="11.3" text-anchor="middle">-</text>
<text x="605.40" y="425.00" font-size="11.3" text-anchor="middle">+</text>
<text x="605.40" y="437.20" font-size="11.3" text-anchor="middle">-</text>
<text x="627.00" y="425.00" font-size="11.3" text-anchor="middle">-</text>
<text x="627.00" y="437.20" font-size="11.3" text-anchor="middle">+</text>
<line x1="334.90" y1="442.20" x2="404.60" y2="442.20" stroke="#000" stroke-width="1.0"/>
<line x1="412.90" y1="442.20" x2="483.00" y2="442.20" stroke="#000" stroke-width="1.0"/>
<line x1="494.90" y1="442.20" x2="565.00" y2="442.20" stroke="#000" stroke-width="1.0"/>
<line x1="572.20" y1="442.20" x2="642.00" y2="442.20" stroke="#000" stroke-width="1.0"/>
<text x="368.60" y="456.50" font-size="11.8" text-anchor="middle">WT</text>
<text x="368.90" y="466.80" font-size="11.8" text-anchor="middle">(untreated)</text>
<text x="446.70" y="456.50" font-size="11.8" text-anchor="middle">CD44 KO</text>
<text x="448.00" y="466.80" font-size="11.8" text-anchor="middle">(untreated)</text>
<text x="529.40" y="456.50" font-size="11.8" text-anchor="middle">WT</text>
<text x="529.40" y="467.60" font-size="11.8" text-anchor="middle">+ TGF-<tspan font-size="9.6" dy="-2.3">β</tspan></text>
<text x="608.70" y="456.50" font-size="11.8" text-anchor="middle">CD44 KO</text>
<text x="608.70" y="467.60" font-size="11.8" text-anchor="middle">+ TGF-<tspan font-size="9.6" dy="-2.3">β</tspan></text>
<line x1="348.20" y1="396.30" x2="348.20" y2="398.30" stroke="#000" stroke-width="0.8"/>
<line x1="348.20" y1="402.90" x2="348.20" y2="402.90" stroke="#000" stroke-width="0.8"/>
<line x1="345.00" y1="396.30" x2="351.40" y2="396.30" stroke="#000" stroke-width="0.8"/>
<line x1="345.00" y1="402.90" x2="351.40" y2="402.90" stroke="#000" stroke-width="0.8"/>
<rect x="341.10" y="398.30" width="14.20" height="4.60" fill="#858585" stroke="#000" stroke-width="0.8"/>
<line x1="341.10" y1="399.90" x2="355.30" y2="399.90" stroke="#000" stroke-width="0.8"/>
<circle cx="348.10" cy="396.30" r="1.6" fill="#000" stroke="none" stroke-width="0"/>
<circle cx="342.20" cy="401.90" r="1.6" fill="#000" stroke="none" stroke-width="0"/>
<circle cx="348.10" cy="401.10" r="1.6" fill="#000" stroke="none" stroke-width="0"/>
<circle cx="353.60" cy="401.90" r="1.6" fill="#000" stroke="none" stroke-width="0"/>
<line x1="369.65" y1="371.40" x2="369.65" y2="371.40" stroke="#000" stroke-width="0.8"/>
<line x1="369.65" y1="380.40" x2="369.65" y2="381.00" stroke="#000" stroke-width="0.8"/>
<line x1="366.45" y1="371.40" x2="372.85" y2="371.40" stroke="#000" stroke-width="0.8"/>
<line x1="366.45" y1="381.00" x2="372.85" y2="381.00" stroke="#000" stroke-width="0.8"/>
<rect x="362.55" y="371.40" width="14.20" height="9.00" fill="#858585" stroke="#000" stroke-width="0.8"/>
<line x1="362.55" y1="375.30" x2="376.75" y2="375.30" stroke="#000" stroke-width="0.8"/>
<circle cx="366.50" cy="371.80" r="1.6" fill="#000" stroke="none" stroke-width="0"/>
<circle cx="372.80" cy="371.00" r="1.6" fill="#000" stroke="none" stroke-width="0"/>
<circle cx="372.80" cy="378.40" r="1.6" fill="#000" stroke="none" stroke-width="0"/>
<circle cx="366.50" cy="381.00" r="1.6" fill="#000" stroke="none" stroke-width="0"/>
<line x1="390.90" y1="407.20" x2="390.90" y2="407.50" stroke="#000" stroke-width="0.8"/>
<line x1="390.90" y1="410.60" x2="390.90" y2="410.60" stroke="#000" stroke-width="0.8"/>
<line x1="387.70" y1="407.20" x2="394.10" y2="407.20" stroke="#000" stroke-width="0.8"/>
<line x1="387.70" y1="410.60" x2="394.10" y2="410.60" stroke="#000" stroke-width="0.8"/>
<rect x="383.80" y="407.50" width="14.20" height="3.10" fill="#858585" stroke="#000" stroke-width="0.8"/>
<line x1="383.80" y1="409.00" x2="398.00" y2="409.00" stroke="#000" stroke-width="0.8"/>
<circle cx="385.10" cy="410.10" r="1.6" fill="#000" stroke="none" stroke-width="0"/>
<circle cx="389.20" cy="407.20" r="1.6" fill="#000" stroke="none" stroke-width="0"/>
<circle cx="393.20" cy="408.80" r="1.6" fill="#000" stroke="none" stroke-width="0"/>
<circle cx="396.80" cy="408.20" r="1.6" fill="#000" stroke="none" stroke-width="0"/>
<line x1="426.85" y1="403.30" x2="426.85" y2="403.30" stroke="#000" stroke-width="0.8"/>
<line x1="426.85" y1="407.60" x2="426.85" y2="407.60" stroke="#000" stroke-width="0.8"/>
<line x1="423.65" y1="403.30" x2="430.05" y2="403.30" stroke="#000" stroke-width="0.8"/>
<line x1="423.65" y1="407.60" x2="430.05" y2="407.60" stroke="#000" stroke-width="0.8"/>
<rect x="419.75" y="403.30" width="14.20" height="4.30" fill="#858585" stroke="#000" stroke-width="0.8"/>
<line x1="419.75" y1="405.50" x2="433.95" y2="405.50" stroke="#000" stroke-width="0.8"/>
<circle cx="420.90" cy="403.60" r="1.6" fill="#000" stroke="none" stroke-width="0"/>
<circle cx="420.90" cy="407.60" r="1.6" fill="#000" stroke="none" stroke-width="0"/>
<circle cx="432.60" cy="405.50" r="1.6" fill="#000" stroke="none" stroke-width="0"/>
<circle cx="426.80" cy="405.50" r="1.6" fill="#000" stroke="none" stroke-width="0"/>
<line x1="448.20" y1="399.50" x2="448.20" y2="400.90" stroke="#000" stroke-width="0.8"/>
<line x1="448.20" y1="407.60" x2="448.20" y2="407.60" stroke="#000" stroke-width="0.8"/>
<line x1="445.00" y1="399.50" x2="451.40" y2="399.50" stroke="#000" stroke-width="0.8"/>
<line x1="445.00" y1="407.60" x2="451.40" y2="407.60" stroke="#000" stroke-width="0.8"/>
<rect x="441.10" y="400.90" width="14.20" height="6.70" fill="#858585" stroke="#000" stroke-width="0.8"/>
<line x1="441.10" y1="405.20" x2="455.30" y2="405.20" stroke="#000" stroke-width="0.8"/>
<circle cx="448.20" cy="399.50" r="1.6" fill="#000" stroke="none" stroke-width="0"/>
<circle cx="448.20" cy="404.00" r="1.6" fill="#000" stroke="none" stroke-width="0"/>
<circle cx="442.50" cy="407.10" r="1.6" fill="#000" stroke="none" stroke-width="0"/>
<circle cx="453.90" cy="407.10" r="1.6" fill="#000" stroke="none" stroke-width="0"/>
<line x1="469.55" y1="399.50" x2="469.55" y2="400.20" stroke="#000" stroke-width="0.8"/>
<line x1="469.55" y1="406.90" x2="469.55" y2="406.90" stroke="#000" stroke-width="0.8"/>
<line x1="466.35" y1="399.50" x2="472.75" y2="399.50" stroke="#000" stroke-width="0.8"/>
<line x1="466.35" y1="406.90" x2="472.75" y2="406.90" stroke="#000" stroke-width="0.8"/>
<rect x="462.45" y="400.20" width="14.20" height="6.70" fill="#858585" stroke="#000" stroke-width="0.8"/>
<line x1="462.45" y1="404.70" x2="476.65" y2="404.70" stroke="#000" stroke-width="0.8"/>
<circle cx="472.90" cy="399.50" r="1.6" fill="#000" stroke="none" stroke-width="0"/>
<circle cx="466.20" cy="401.90" r="1.6" fill="#000" stroke="none" stroke-width="0"/>
<circle cx="466.20" cy="407.10" r="1.6" fill="#000" stroke="none" stroke-width="0"/>
<circle cx="472.90" cy="407.10" r="1.6" fill="#000" stroke="none" stroke-width="0"/>
<line x1="505.40" y1="366.00" x2="505.40" y2="366.00" stroke="#000" stroke-width="0.8"/>
<line x1="505.40" y1="379.80" x2="505.40" y2="381.50" stroke="#000" stroke-width="0.8"/>
<line x1="502.20" y1="366.00" x2="508.60" y2="366.00" stroke="#000" stroke-width="0.8"/>
<line x1="502.20" y1="381.50" x2="508.60" y2="381.50" stroke="#000" stroke-width="0.8"/>
<rect x="498.30" y="366.00" width="14.20" height="13.80" fill="#858585" stroke="#000" stroke-width="0.8"/>
<line x1="498.30" y1="371.00" x2="512.50" y2="371.00" stroke="#000" stroke-width="0.8"/>
<circle cx="502.50" cy="366.60" r="1.6" fill="#000" stroke="none" stroke-width="0"/>
<circle cx="509.30" cy="365.10" r="1.6" fill="#000" stroke="none" stroke-width="0"/>
<circle cx="505.30" cy="374.70" r="1.6" fill="#000" stroke="none" stroke-width="0"/>
<circle cx="505.30" cy="381.10" r="1.6" fill="#000" stroke="none" stroke-width="0"/>
<line x1="526.90" y1="299.20" x2="526.90" y2="302.70" stroke="#000" stroke-width="0.8"/>
<line x1="526.90" y1="340.40" x2="526.90" y2="345.20" stroke="#000" stroke-width="0.8"/>
<line x1="523.70" y1="299.20" x2="530.10" y2="299.20" stroke="#000" stroke-width="0.8"/>
<line x1="523.70" y1="345.20" x2="530.10" y2="345.20" stroke="#000" stroke-width="0.8"/>
<rect x="519.80" y="302.70" width="14.20" height="37.70" fill="#858585" stroke="#000" stroke-width="0.8"/>
<line x1="519.80" y1="320.20" x2="534.00" y2="320.20" stroke="#000" stroke-width="0.8"/>
<circle cx="526.80" cy="299.20" r="1.6" fill="#000" stroke="none" stroke-width="0"/>
<circle cx="526.80" cy="313.40" r="1.6" fill="#000" stroke="none" stroke-width="0"/>
<circle cx="526.80" cy="327.20" r="1.6" fill="#000" stroke="none" stroke-width="0"/>
<circle cx="526.80" cy="345.20" r="1.6" fill="#000" stroke="none" stroke-width="0"/>
<line x1="548.60" y1="389.00" x2="548.60" y2="389.00" stroke="#000" stroke-width="0.8"/>
<line x1="548.60" y1="401.20" x2="548.60" y2="401.20" stroke="#000" stroke-width="0.8"/>
<line x1="545.40" y1="389.00" x2="551.80" y2="389.00" stroke="#000" stroke-width="0.8"/>
<line x1="545.40" y1="401.20" x2="551.80" y2="401.20" stroke="#000" stroke-width="0.8"/>
<rect x="541.50" y="389.00" width="14.20" height="12.20" fill="#858585" stroke="#000" stroke-width="0.8"/>
<line x1="541.50" y1="394.70" x2="555.70" y2="394.70" stroke="#000" stroke-width="0.8"/>
<circle cx="545.20" cy="390.30" r="1.6" fill="#000" stroke="none" stroke-width="0"/>
<circle cx="551.70" cy="387.90" r="1.6" fill="#000" stroke="none" stroke-width="0"/>
<circle cx="545.20" cy="401.70" r="1.6" fill="#000" stroke="none" stroke-width="0"/>
<circle cx="551.70" cy="400.80" r="1.6" fill="#000" stroke="none" stroke-width="0"/>
<line x1="584.20" y1="387.40" x2="584.20" y2="390.10" stroke="#000" stroke-width="0.8"/>
<line x1="584.20" y1="401.70" x2="584.20" y2="403.90" stroke="#000" stroke-width="0.8"/>
<line x1="581.00" y1="387.40" x2="587.40" y2="387.40" stroke="#000" stroke-width="0.8"/>
<line x1="581.00" y1="403.90" x2="587.40" y2="403.90" stroke="#000" stroke-width="0.8"/>
<rect x="577.10" y="390.10" width="14.20" height="11.60" fill="#858585" stroke="#000" stroke-width="0.8"/>
<line x1="577.10" y1="397.30" x2="591.30" y2="397.30" stroke="#000" stroke-width="0.8"/>
<circle cx="584.20" cy="387.40" r="1.6" fill="#000" stroke="none" stroke-width="0"/>
<circle cx="580.90" cy="395.50" r="1.6" fill="#000" stroke="none" stroke-width="0"/>
<circle cx="589.60" cy="397.30" r="1.6" fill="#000" stroke="none" stroke-width="0"/>
<circle cx="584.20" cy="403.90" r="1.6" fill="#000" stroke="none" stroke-width="0"/>
<line x1="605.70" y1="387.40" x2="605.70" y2="390.30" stroke="#000" stroke-width="0.8"/>
<line x1="605.70" y1="399.00" x2="605.70" y2="399.00" stroke="#000" stroke-width="0.8"/>
<line x1="602.50" y1="387.40" x2="608.90" y2="387.40" stroke="#000" stroke-width="0.8"/>
<line x1="602.50" y1="399.00" x2="608.90" y2="399.00" stroke="#000" stroke-width="0.8"/>
<rect x="598.60" y="390.30" width="14.20" height="8.70" fill="#858585" stroke="#000" stroke-width="0.8"/>
<line x1="598.60" y1="396.90" x2="612.80" y2="396.90" stroke="#000" stroke-width="0.8"/>
<circle cx="605.40" cy="387.40" r="1.6" fill="#000" stroke="none" stroke-width="0"/>
<circle cx="602.10" cy="396.90" r="1.6" fill="#000" stroke="none" stroke-width="0"/>
<circle cx="602.10" cy="399.50" r="1.6" fill="#000" stroke="none" stroke-width="0"/>
<circle cx="609.30" cy="397.70" r="1.6" fill="#000" stroke="none" stroke-width="0"/>
<line x1="627.00" y1="385.70" x2="627.00" y2="388.10" stroke="#000" stroke-width="0.8"/>
<line x1="627.00" y1="403.90" x2="627.00" y2="403.90" stroke="#000" stroke-width="0.8"/>
<line x1="623.80" y1="385.70" x2="630.20" y2="385.70" stroke="#000" stroke-width="0.8"/>
<line x1="623.80" y1="403.90" x2="630.20" y2="403.90" stroke="#000" stroke-width="0.8"/>
<rect x="619.90" y="388.10" width="14.20" height="15.80" fill="#858585" stroke="#000" stroke-width="0.8"/>
<line x1="619.90" y1="398.40" x2="634.10" y2="398.40" stroke="#000" stroke-width="0.8"/>
<circle cx="626.90" cy="385.70" r="1.6" fill="#000" stroke="none" stroke-width="0"/>
<circle cx="626.90" cy="394.40" r="1.6" fill="#000" stroke="none" stroke-width="0"/>
<circle cx="623.60" cy="403.90" r="1.6" fill="#000" stroke="none" stroke-width="0"/>
<circle cx="630.00" cy="402.30" r="1.6" fill="#000" stroke="none" stroke-width="0"/>
<line x1="347.50" y1="346.40" x2="392.40" y2="346.40" stroke="#000" stroke-width="1.0"/>
<text x="369.50" y="343.10" font-size="11.95" text-anchor="middle">ns</text>
<line x1="347.50" y1="363.30" x2="370.00" y2="363.30" stroke="#000" stroke-width="1.0"/>
<text x="338.60" y="359.60" font-size="11.9"><tspan font-style="italic">p</tspan>=0.0019</text>
<line x1="428.00" y1="388.70" x2="450.90" y2="388.70" stroke="#000" stroke-width="1.0"/>
<text x="439.50" y="384.70" font-size="11.95" text-anchor="middle">ns</text>
<line x1="429.00" y1="371.60" x2="473.90" y2="371.60" stroke="#000" stroke-width="1.0"/>
<text x="451.50" y="369.00" font-size="11.95" text-anchor="middle">ns</text>
<line x1="504.50" y1="252.70" x2="577.60" y2="252.70" stroke="#000" stroke-width="1.0"/>
<text x="516.40" y="248.70" font-size="11.9"><tspan font-style="italic">p</tspan>=0.0030</text>
<line x1="505.20" y1="271.30" x2="544.20" y2="271.30" stroke="#000" stroke-width="1.0"/>
<text x="500.80" y="267.40" font-size="11.9"><tspan font-style="italic">p</tspan>=0.0060</text>
<line x1="505.70" y1="291.90" x2="528.60" y2="291.90" stroke="#000" stroke-width="1.0"/>
<text x="491.40" y="288.40" font-size="11.9"><tspan font-style="italic">p</tspan>&lt;0.0001</text>
<line x1="584.20" y1="376.50" x2="606.70" y2="376.50" stroke="#000" stroke-width="1.0"/>
<text x="595.60" y="372.80" font-size="11.95" text-anchor="middle">ns</text>
<line x1="584.60" y1="360.00" x2="630.10" y2="360.00" stroke="#000" stroke-width="1.0"/>
<text x="607.70" y="356.80" font-size="11.95" text-anchor="middle">ns</text>
<text x="8.90" y="512.20" font-size="14.5" font-weight="bold">f</text>
<text x="55.40" y="505.00" font-size="11.8">pB3</text>
<line x1="54.50" y1="516.00" x2="68.50" y2="516.00" stroke="#333333" stroke-width="1.0"/>
<circle cx="61.50" cy="516.00" r="2.5" fill="#333333" stroke="#000" stroke-width="0.8"/>
<text x="75.60" y="519.60" font-size="11.8">WT</text>
<line x1="54.50" y1="532.80" x2="68.50" y2="532.80" stroke="#EE4A1A" stroke-width="1.0"/>
<circle cx="61.50" cy="532.80" r="2.5" fill="#EE4A1A" stroke="#000" stroke-width="0.8"/>
<text x="75.60" y="536.40" font-size="11.8">AGPS KO</text>
<line x1="54.50" y1="549.60" x2="68.50" y2="549.60" stroke="#C8C8C8" stroke-width="1.0"/>
<circle cx="61.50" cy="549.60" r="2.5" fill="#C6C6C6" stroke="#000" stroke-width="0.8"/>
<text x="75.60" y="553.20" font-size="11.8">AGPS Addback</text>
<line x1="46.00" y1="552.19" x2="46.00" y2="673.30" stroke="#000" stroke-width="1.0"/>
<line x1="46.00" y1="673.30" x2="166.60" y2="673.30" stroke="#000" stroke-width="1.0"/>
<line x1="41.20" y1="673.30" x2="46.00" y2="673.30" stroke="#000" stroke-width="1.0"/>
<text x="39.60" y="676.90" font-size="12.0" text-anchor="end">0</text>
<line x1="41.20" y1="632.93" x2="46.00" y2="632.93" stroke="#000" stroke-width="1.0"/>
<text x="39.60" y="636.53" font-size="12.0" text-anchor="end">10</text>
<line x1="41.20" y1="592.56" x2="46.00" y2="592.56" stroke="#000" stroke-width="1.0"/>
<text x="39.60" y="596.16" font-size="12.0" text-anchor="end">20</text>
<line x1="41.20" y1="552.19" x2="46.00" y2="552.19" stroke="#000" stroke-width="1.0"/>
<text x="39.60" y="555.79" font-size="12.0" text-anchor="end">30</text>
<line x1="46.00" y1="673.30" x2="46.00" y2="677.90" stroke="#000" stroke-width="1.0"/>
<text x="46.00" y="689.20" font-size="12.0" text-anchor="middle">0</text>
<line x1="76.15" y1="673.30" x2="76.15" y2="677.90" stroke="#000" stroke-width="1.0"/>
<text x="76.15" y="689.20" font-size="12.0" text-anchor="middle">5</text>
<line x1="106.30" y1="673.30" x2="106.30" y2="677.90" stroke="#000" stroke-width="1.0"/>
<text x="106.30" y="689.20" font-size="12.0" text-anchor="middle">10</text>
<line x1="136.45" y1="673.30" x2="136.45" y2="677.90" stroke="#000" stroke-width="1.0"/>
<text x="136.45" y="689.20" font-size="12.0" text-anchor="middle">15</text>
<line x1="166.60" y1="673.30" x2="166.60" y2="677.90" stroke="#000" stroke-width="1.0"/>
<text x="166.60" y="689.20" font-size="12.0" text-anchor="middle">20</text>
<text transform="translate(9.40,607.80) rotate(-90)" font-size="11.65" text-anchor="middle">Dextran</text>
<text transform="translate(21.40,600.50) rotate(-90)" font-size="11.65" text-anchor="middle">colocalized with EEA1 (%)</text>
<polyline points="46.00,673.30 76.15,647.87 166.60,596.60" fill="none" stroke="#C8C8C8" stroke-width="1.15"/>
<polyline points="46.00,673.30 76.15,631.72 166.60,583.68" fill="none" stroke="#333333" stroke-width="1.15"/>
<polyline points="46.00,673.30 76.15,653.12 166.60,624.86" fill="none" stroke="#EE4A1A" stroke-width="1.15"/>
<circle cx="46.00" cy="673.30" r="2.6" fill="#C6C6C6" stroke="#000" stroke-width="0.8"/>
<line x1="76.15" y1="645.85" x2="76.15" y2="649.89" stroke="#333" stroke-width="0.8"/>
<line x1="73.45" y1="645.85" x2="78.85" y2="645.85" stroke="#333" stroke-width="0.8"/>
<line x1="73.45" y1="649.89" x2="78.85" y2="649.89" stroke="#333" stroke-width="0.8"/>
<circle cx="76.15" cy="647.87" r="2.6" fill="#C6C6C6" stroke="#000" stroke-width="0.8"/>
<line x1="166.60" y1="590.54" x2="166.60" y2="602.65" stroke="#333" stroke-width="0.8"/>
<line x1="163.90" y1="590.54" x2="169.30" y2="590.54" stroke="#333" stroke-width="0.8"/>
<line x1="163.90" y1="602.65" x2="169.30" y2="602.65" stroke="#333" stroke-width="0.8"/>
<circle cx="166.60" cy="596.60" r="2.6" fill="#C6C6C6" stroke="#000" stroke-width="0.8"/>
<line x1="76.15" y1="629.30" x2="76.15" y2="634.14" stroke="#333" stroke-width="0.8"/>
<line x1="73.45" y1="629.30" x2="78.85" y2="629.30" stroke="#333" stroke-width="0.8"/>
<line x1="73.45" y1="634.14" x2="78.85" y2="634.14" stroke="#333" stroke-width="0.8"/>
<circle cx="76.15" cy="631.72" r="2.6" fill="#333333" stroke="#000" stroke-width="0.8"/>
<line x1="166.60" y1="578.83" x2="166.60" y2="588.52" stroke="#333" stroke-width="0.8"/>
<line x1="163.90" y1="578.83" x2="169.30" y2="578.83" stroke="#333" stroke-width="0.8"/>
<line x1="163.90" y1="588.52" x2="169.30" y2="588.52" stroke="#333" stroke-width="0.8"/>
<circle cx="166.60" cy="583.68" r="2.6" fill="#333333" stroke="#000" stroke-width="0.8"/>
<line x1="76.15" y1="650.29" x2="76.15" y2="655.94" stroke="#333" stroke-width="0.8"/>
<line x1="73.45" y1="650.29" x2="78.85" y2="650.29" stroke="#333" stroke-width="0.8"/>
<line x1="73.45" y1="655.94" x2="78.85" y2="655.94" stroke="#333" stroke-width="0.8"/>
<circle cx="76.15" cy="653.12" r="2.6" fill="#EE4A1A" stroke="#000" stroke-width="0.8"/>
<line x1="166.60" y1="618.40" x2="166.60" y2="631.32" stroke="#333" stroke-width="0.8"/>
<line x1="163.90" y1="618.40" x2="169.30" y2="618.40" stroke="#333" stroke-width="0.8"/>
<line x1="163.90" y1="631.32" x2="169.30" y2="631.32" stroke="#333" stroke-width="0.8"/>
<circle cx="166.60" cy="624.86" r="2.6" fill="#EE4A1A" stroke="#000" stroke-width="0.8"/>
<text x="110.80" y="702.00" font-size="11.5" text-anchor="middle">Time (min)</text>
<line x1="176.40" y1="582.30" x2="176.40" y2="626.50" stroke="#222" stroke-width="1.0"/>
<text transform="translate(180.60,578.70) rotate(90)" font-size="11.8"><tspan font-style="italic">p</tspan>&lt;0.0001</text>
<line x1="195.50" y1="595.00" x2="195.50" y2="623.60" stroke="#222" stroke-width="1.0"/>
<text transform="translate(200.30,584.80) rotate(90)" font-size="11.8"><tspan font-style="italic">p</tspan>=0.0060</text>
<text x="212.00" y="511.80" font-size="14.5" font-weight="bold">g</text>
<text x="281.10" y="506.80" font-size="12.15">PyMT-1099</text>
<line x1="235.20" y1="519.30" x2="249.20" y2="519.30" stroke="#111111" stroke-width="1.0"/>
<circle cx="242.20" cy="519.30" r="2.5" fill="#000000" stroke="#000" stroke-width="0.8"/>
<text x="255.50" y="522.90" font-size="12.05">WT</text>
<line x1="324.90" y1="519.30" x2="338.90" y2="519.30" stroke="#6E6E6E" stroke-width="1.0"/>
<circle cx="331.90" cy="519.30" r="2.5" fill="#6E6E6E" stroke="#000" stroke-width="0.8"/>
<text x="346.00" y="522.90" font-size="12.05">AGPS KO</text>
<line x1="235.20" y1="534.40" x2="249.20" y2="534.40" stroke="#C8C8C8" stroke-width="1.0"/>
<circle cx="242.20" cy="534.40" r="2.5" fill="#C6C6C6" stroke="#000" stroke-width="0.8"/>
<text x="255.50" y="538.00" font-size="12.05">WT + TGF-<tspan font-size="9.6" dy="-2.3">β</tspan></text>
<line x1="324.90" y1="534.40" x2="338.90" y2="534.40" stroke="#EE4A1A" stroke-width="1.0"/>
<circle cx="331.90" cy="534.40" r="2.5" fill="#EE4A1A" stroke="#000" stroke-width="0.8"/>
<text x="346.00" y="538.00" font-size="12.05">AGPS KO + TGF-<tspan font-size="9.6" dy="-2.3">β</tspan></text>
<line x1="284.40" y1="555.40" x2="284.40" y2="676.70" stroke="#000" stroke-width="1.0"/>
<line x1="284.40" y1="676.70" x2="408.00" y2="676.70" stroke="#000" stroke-width="1.0"/>
<line x1="279.60" y1="676.70" x2="284.40" y2="676.70" stroke="#000" stroke-width="1.0"/>
<text x="278.00" y="680.30" font-size="12.0" text-anchor="end">0</text>
<line x1="279.60" y1="652.44" x2="284.40" y2="652.44" stroke="#000" stroke-width="1.0"/>
<text x="278.00" y="656.04" font-size="12.0" text-anchor="end">5</text>
<line x1="279.60" y1="628.18" x2="284.40" y2="628.18" stroke="#000" stroke-width="1.0"/>
<text x="278.00" y="631.78" font-size="12.0" text-anchor="end">10</text>
<line x1="279.60" y1="603.92" x2="284.40" y2="603.92" stroke="#000" stroke-width="1.0"/>
<text x="278.00" y="607.52" font-size="12.0" text-anchor="end">15</text>
<line x1="279.60" y1="579.66" x2="284.40" y2="579.66" stroke="#000" stroke-width="1.0"/>
<text x="278.00" y="583.26" font-size="12.0" text-anchor="end">20</text>
<line x1="279.60" y1="555.40" x2="284.40" y2="555.40" stroke="#000" stroke-width="1.0"/>
<text x="278.00" y="559.00" font-size="12.0" text-anchor="end">25</text>
<line x1="284.40" y1="676.70" x2="284.40" y2="681.30" stroke="#000" stroke-width="1.0"/>
<text x="284.40" y="692.60" font-size="12.0" text-anchor="middle">0</text>
<line x1="309.12" y1="676.70" x2="309.12" y2="681.30" stroke="#000" stroke-width="1.0"/>
<text x="309.12" y="692.60" font-size="12.0" text-anchor="middle">5</text>
<line x1="333.84" y1="676.70" x2="333.84" y2="681.30" stroke="#000" stroke-width="1.0"/>
<text x="333.84" y="692.60" font-size="12.0" text-anchor="middle">10</text>
<line x1="358.56" y1="676.70" x2="358.56" y2="681.30" stroke="#000" stroke-width="1.0"/>
<text x="358.56" y="692.60" font-size="12.0" text-anchor="middle">15</text>
<line x1="383.28" y1="676.70" x2="383.28" y2="681.30" stroke="#000" stroke-width="1.0"/>
<text x="383.28" y="692.60" font-size="12.0" text-anchor="middle">20</text>
<line x1="408.00" y1="676.70" x2="408.00" y2="681.30" stroke="#000" stroke-width="1.0"/>
<text x="408.00" y="692.60" font-size="12.0" text-anchor="middle">25</text>
<text transform="translate(247.00,602.80) rotate(-90)" font-size="11.65" text-anchor="middle">Dextran colocalization</text>
<text transform="translate(258.90,605.80) rotate(-90)" font-size="11.65" text-anchor="middle">with EEA1 (%)</text>
<polyline points="284.40,676.70 309.12,654.87 383.28,594.85" fill="none" stroke="#C8C8C8" stroke-width="1.15"/>
<polyline points="284.40,676.70 309.12,660.69 383.28,635.85" fill="none" stroke="#6E6E6E" stroke-width="1.15"/>
<polyline points="284.40,676.70 309.12,659.23 383.28,626.92" fill="none" stroke="#EE4A1A" stroke-width="1.15"/>
<polyline points="284.40,676.70 309.12,648.56 383.28,588.44" fill="none" stroke="#111111" stroke-width="1.15"/>
<line x1="309.12" y1="657.78" x2="309.12" y2="660.69" stroke="#333" stroke-width="0.8"/>
<line x1="306.42" y1="657.78" x2="311.82" y2="657.78" stroke="#333" stroke-width="0.8"/>
<line x1="306.42" y1="660.69" x2="311.82" y2="660.69" stroke="#333" stroke-width="0.8"/>
<circle cx="309.12" cy="659.23" r="2.6" fill="#EE4A1A" stroke="#000" stroke-width="0.8"/>
<line x1="383.28" y1="621.39" x2="383.28" y2="633.03" stroke="#333" stroke-width="0.8"/>
<line x1="380.58" y1="621.39" x2="385.98" y2="621.39" stroke="#333" stroke-width="0.8"/>
<line x1="380.58" y1="633.03" x2="385.98" y2="633.03" stroke="#333" stroke-width="0.8"/>
<circle cx="383.28" cy="627.21" r="2.6" fill="#EE4A1A" stroke="#000" stroke-width="0.8"/>
<line x1="309.12" y1="659.23" x2="309.12" y2="662.14" stroke="#333" stroke-width="0.8"/>
<line x1="306.42" y1="659.23" x2="311.82" y2="659.23" stroke="#333" stroke-width="0.8"/>
<line x1="306.42" y1="662.14" x2="311.82" y2="662.14" stroke="#333" stroke-width="0.8"/>
<circle cx="309.12" cy="660.69" r="2.6" fill="#6E6E6E" stroke="#000" stroke-width="0.8"/>
<line x1="383.28" y1="632.06" x2="383.28" y2="639.82" stroke="#333" stroke-width="0.8"/>
<line x1="380.58" y1="632.06" x2="385.98" y2="632.06" stroke="#333" stroke-width="0.8"/>
<line x1="380.58" y1="639.82" x2="385.98" y2="639.82" stroke="#333" stroke-width="0.8"/>
<circle cx="383.28" cy="635.94" r="2.6" fill="#6E6E6E" stroke="#000" stroke-width="0.8"/>
<line x1="309.12" y1="652.93" x2="309.12" y2="656.81" stroke="#333" stroke-width="0.8"/>
<line x1="306.42" y1="652.93" x2="311.82" y2="652.93" stroke="#333" stroke-width="0.8"/>
<line x1="306.42" y1="656.81" x2="311.82" y2="656.81" stroke="#333" stroke-width="0.8"/>
<circle cx="309.12" cy="654.87" r="2.6" fill="#C6C6C6" stroke="#000" stroke-width="0.8"/>
<line x1="383.28" y1="588.88" x2="383.28" y2="600.52" stroke="#333" stroke-width="0.8"/>
<line x1="380.58" y1="588.88" x2="385.98" y2="588.88" stroke="#333" stroke-width="0.8"/>
<line x1="380.58" y1="600.52" x2="385.98" y2="600.52" stroke="#333" stroke-width="0.8"/>
<circle cx="383.28" cy="594.70" r="2.6" fill="#C6C6C6" stroke="#000" stroke-width="0.8"/>
<circle cx="284.40" cy="676.70" r="2.6" fill="#000000" stroke="#000" stroke-width="0.8"/>
<circle cx="309.12" cy="648.56" r="2.6" fill="#000000" stroke="#000" stroke-width="0.8"/>
<line x1="383.28" y1="585.48" x2="383.28" y2="592.28" stroke="#333" stroke-width="0.8"/>
<line x1="380.58" y1="585.48" x2="385.98" y2="585.48" stroke="#333" stroke-width="0.8"/>
<line x1="380.58" y1="592.28" x2="385.98" y2="592.28" stroke="#333" stroke-width="0.8"/>
<circle cx="383.28" cy="588.88" r="2.6" fill="#000000" stroke="#000" stroke-width="0.8"/>
<text x="350.90" y="706.00" font-size="11.5" text-anchor="middle">Time (min)</text>
<line x1="393.90" y1="593.50" x2="393.90" y2="627.70" stroke="#222" stroke-width="1.0"/>
<text transform="translate(399.00,586.70) rotate(90)" font-size="12.05"><tspan font-style="italic">p</tspan>=0.0006</text>
<text x="441.20" y="514.40" font-size="14.5" font-weight="bold">h</text>
<text x="517.30" y="505.10" font-size="12.2">PyMT-1099</text>
<line x1="473.00" y1="518.30" x2="487.00" y2="518.30" stroke="#111111" stroke-width="1.0"/>
<circle cx="480.00" cy="518.30" r="2.5" fill="#000000" stroke="#000" stroke-width="0.8"/>
<text x="494.00" y="521.90" font-size="11.9">WT</text>
<line x1="564.10" y1="518.30" x2="578.10" y2="518.30" stroke="#6E6E6E" stroke-width="1.0"/>
<circle cx="571.10" cy="518.30" r="2.5" fill="#6E6E6E" stroke="#000" stroke-width="0.8"/>
<text x="585.20" y="521.90" font-size="11.9">AGPS KO</text>
<line x1="473.00" y1="536.10" x2="487.00" y2="536.10" stroke="#C8C8C8" stroke-width="1.0"/>
<circle cx="480.00" cy="536.10" r="2.5" fill="#C6C6C6" stroke="#000" stroke-width="0.8"/>
<text x="494.00" y="539.70" font-size="11.9">WT + TGF-<tspan font-size="9.6" dy="-2.3">β</tspan></text>
<line x1="564.10" y1="536.10" x2="578.10" y2="536.10" stroke="#EE4A1A" stroke-width="1.0"/>
<circle cx="571.10" cy="536.10" r="2.5" fill="#EE4A1A" stroke="#000" stroke-width="0.8"/>
<text x="585.20" y="539.70" font-size="11.9">AGPS KO + TGF-<tspan font-size="9.6" dy="-2.3">β</tspan></text>
<line x1="515.30" y1="556.50" x2="515.30" y2="678.40" stroke="#000" stroke-width="1.0"/>
<line x1="515.30" y1="678.40" x2="626.60" y2="678.40" stroke="#000" stroke-width="1.0"/>
<line x1="510.50" y1="678.40" x2="515.30" y2="678.40" stroke="#000" stroke-width="1.0"/>
<text x="508.90" y="682.00" font-size="12.0" text-anchor="end">0</text>
<line x1="510.50" y1="647.92" x2="515.30" y2="647.92" stroke="#000" stroke-width="1.0"/>
<text x="508.90" y="651.52" font-size="12.0" text-anchor="end">10</text>
<line x1="510.50" y1="617.45" x2="515.30" y2="617.45" stroke="#000" stroke-width="1.0"/>
<text x="508.90" y="621.05" font-size="12.0" text-anchor="end">20</text>
<line x1="510.50" y1="586.98" x2="515.30" y2="586.98" stroke="#000" stroke-width="1.0"/>
<text x="508.90" y="590.58" font-size="12.0" text-anchor="end">30</text>
<line x1="510.50" y1="556.50" x2="515.30" y2="556.50" stroke="#000" stroke-width="1.0"/>
<text x="508.90" y="560.10" font-size="12.0" text-anchor="end">40</text>
<line x1="515.30" y1="678.40" x2="515.30" y2="683.00" stroke="#000" stroke-width="1.0"/>
<text x="515.30" y="694.30" font-size="12.0" text-anchor="middle">0</text>
<line x1="552.40" y1="678.40" x2="552.40" y2="683.00" stroke="#000" stroke-width="1.0"/>
<text x="552.40" y="694.30" font-size="12.0" text-anchor="middle">2</text>
<line x1="589.50" y1="678.40" x2="589.50" y2="683.00" stroke="#000" stroke-width="1.0"/>
<text x="589.50" y="694.30" font-size="12.0" text-anchor="middle">4</text>
<line x1="626.60" y1="678.40" x2="626.60" y2="683.00" stroke="#000" stroke-width="1.0"/>
<text x="626.60" y="694.30" font-size="12.0" text-anchor="middle">6</text>
<text transform="translate(477.70,608.40) rotate(-90)" font-size="11.65" text-anchor="middle">EGF colocalization</text>
<text transform="translate(489.40,610.50) rotate(-90)" font-size="11.65" text-anchor="middle">with EEA1 (%)</text>
<text x="552.00" y="561.90" font-size="11.7">EGF: 2 ng/ml</text>
<polyline points="515.30,678.40 552.40,670.78 608.05,599.77" fill="none" stroke="#C8C8C8" stroke-width="1.15"/>
<polyline points="515.30,678.40 552.40,670.78 608.05,591.24" fill="none" stroke="#6E6E6E" stroke-width="1.15"/>
<polyline points="515.30,678.40 552.40,670.78 608.05,593.68" fill="none" stroke="#EE4A1A" stroke-width="1.15"/>
<polyline points="515.30,678.40 552.40,670.78 608.05,592.46" fill="none" stroke="#111111" stroke-width="1.15"/>
<circle cx="552.40" cy="670.78" r="2.6" fill="#C6C6C6" stroke="#000" stroke-width="0.8"/>
<line x1="608.05" y1="594.90" x2="608.05" y2="604.65" stroke="#333" stroke-width="0.8"/>
<line x1="605.35" y1="594.90" x2="610.75" y2="594.90" stroke="#333" stroke-width="0.8"/>
<line x1="605.35" y1="604.65" x2="610.75" y2="604.65" stroke="#333" stroke-width="0.8"/>
<circle cx="608.05" cy="599.77" r="2.6" fill="#C6C6C6" stroke="#000" stroke-width="0.8"/>
<circle cx="552.40" cy="670.78" r="2.6" fill="#EE4A1A" stroke="#000" stroke-width="0.8"/>
<circle cx="608.05" cy="593.68" r="2.6" fill="#EE4A1A" stroke="#000" stroke-width="0.8"/>
<circle cx="552.40" cy="670.78" r="2.6" fill="#6E6E6E" stroke="#000" stroke-width="0.8"/>
<line x1="608.05" y1="587.89" x2="608.05" y2="594.59" stroke="#333" stroke-width="0.8"/>
<line x1="605.35" y1="587.89" x2="610.75" y2="587.89" stroke="#333" stroke-width="0.8"/>
<line x1="605.35" y1="594.59" x2="610.75" y2="594.59" stroke="#333" stroke-width="0.8"/>
<circle cx="608.05" cy="591.24" r="2.6" fill="#6E6E6E" stroke="#000" stroke-width="0.8"/>
<circle cx="515.30" cy="678.40" r="2.6" fill="#000000" stroke="#000" stroke-width="0.8"/>
<circle cx="552.40" cy="670.78" r="2.6" fill="#000000" stroke="#000" stroke-width="0.8"/>
<line x1="608.05" y1="590.02" x2="608.05" y2="594.90" stroke="#333" stroke-width="0.8"/>
<line x1="605.35" y1="590.02" x2="610.75" y2="590.02" stroke="#333" stroke-width="0.8"/>
<line x1="605.35" y1="594.90" x2="610.75" y2="594.90" stroke="#333" stroke-width="0.8"/>
<circle cx="608.05" cy="592.46" r="2.6" fill="#000000" stroke="#000" stroke-width="0.8"/>
<text x="576.00" y="709.60" font-size="11.5" text-anchor="middle">Time (min)</text>
<line x1="616.50" y1="590.00" x2="616.50" y2="599.80" stroke="#222" stroke-width="1.0"/>
<text x="619.00" y="596.90" font-size="11.9">ns</text>
<text x="15.20" y="758.50" font-size="14.5" font-weight="bold">i</text>
<text x="84.00" y="751.00" font-size="11.9">pB3</text>
<line x1="82.20" y1="763.50" x2="96.20" y2="763.50" stroke="#111111" stroke-width="1.0"/>
<circle cx="89.20" cy="763.50" r="2.5" fill="#000000" stroke="#000" stroke-width="0.8"/>
<text x="102.40" y="767.10" font-size="11.9">WT</text>
<line x1="82.20" y1="780.40" x2="96.20" y2="780.40" stroke="#EE4A1A" stroke-width="1.0"/>
<circle cx="89.20" cy="780.40" r="2.5" fill="#EE4A1A" stroke="#000" stroke-width="0.8"/>
<text x="102.40" y="784.00" font-size="11.9">AGPS KO</text>
<line x1="82.20" y1="797.20" x2="96.20" y2="797.20" stroke="#C8C8C8" stroke-width="1.0"/>
<circle cx="89.20" cy="797.20" r="2.5" fill="#C6C6C6" stroke="#000" stroke-width="0.8"/>
<text x="102.40" y="800.80" font-size="11.9">AGPS KO + C(22:6)</text>
<line x1="76.40" y1="780.70" x2="76.40" y2="902.20" stroke="#000" stroke-width="1.0"/>
<line x1="76.40" y1="902.20" x2="187.50" y2="902.20" stroke="#000" stroke-width="1.0"/>
<line x1="71.60" y1="902.20" x2="76.40" y2="902.20" stroke="#000" stroke-width="1.0"/>
<text x="70.00" y="905.80" font-size="12.0" text-anchor="end">0</text>
<line x1="71.60" y1="871.83" x2="76.40" y2="871.83" stroke="#000" stroke-width="1.0"/>
<text x="70.00" y="875.43" font-size="12.0" text-anchor="end">5</text>
<line x1="71.60" y1="841.45" x2="76.40" y2="841.45" stroke="#000" stroke-width="1.0"/>
<text x="70.00" y="845.05" font-size="12.0" text-anchor="end">10</text>
<line x1="71.60" y1="811.08" x2="76.40" y2="811.08" stroke="#000" stroke-width="1.0"/>
<text x="70.00" y="814.68" font-size="12.0" text-anchor="end">15</text>
<line x1="71.60" y1="780.70" x2="76.40" y2="780.70" stroke="#000" stroke-width="1.0"/>
<text x="70.00" y="784.30" font-size="12.0" text-anchor="end">20</text>
<line x1="76.40" y1="902.20" x2="76.40" y2="906.80" stroke="#000" stroke-width="1.0"/>
<text x="76.40" y="917.50" font-size="12.0" text-anchor="middle">0</text>
<line x1="112.20" y1="902.20" x2="112.20" y2="906.80" stroke="#000" stroke-width="1.0"/>
<text x="112.20" y="917.50" font-size="12.0" text-anchor="middle">20</text>
<line x1="148.00" y1="902.20" x2="148.00" y2="906.80" stroke="#000" stroke-width="1.0"/>
<text x="148.00" y="917.50" font-size="12.0" text-anchor="middle">40</text>
<line x1="183.80" y1="902.20" x2="183.80" y2="906.80" stroke="#000" stroke-width="1.0"/>
<text x="183.80" y="917.50" font-size="12.0" text-anchor="middle">60</text>
<text transform="translate(37.80,843.30) rotate(-90)" font-size="11.65" text-anchor="middle">Hyaluronate probe</text>
<text transform="translate(50.60,839.00) rotate(-90)" font-size="11.65" text-anchor="middle">colocalized with EEA1 (%)</text>
<text x="137.00" y="934.00" font-size="11.5" text-anchor="middle">Time (min)</text>
<polyline points="76.40,902.20 94.30,891.27 130.10,877.90 183.80,856.64" fill="none" stroke="#C8C8C8" stroke-width="1.15"/>
<polyline points="76.40,902.20 94.30,900.38 130.10,896.73 183.80,890.35" fill="none" stroke="#EE4A1A" stroke-width="1.15"/>
<polyline points="76.40,902.20 94.30,876.69 130.10,847.53 183.80,818.97" fill="none" stroke="#111111" stroke-width="1.15"/>
<circle cx="94.30" cy="891.27" r="2.6" fill="#C6C6C6" stroke="#000" stroke-width="0.8"/>
<circle cx="130.10" cy="877.90" r="2.6" fill="#C6C6C6" stroke="#000" stroke-width="0.8"/>
<circle cx="183.80" cy="856.64" r="2.6" fill="#C6C6C6" stroke="#000" stroke-width="0.8"/>
<circle cx="94.30" cy="900.38" r="2.6" fill="#EE4A1A" stroke="#000" stroke-width="0.8"/>
<circle cx="130.10" cy="896.73" r="2.6" fill="#EE4A1A" stroke="#000" stroke-width="0.8"/>
<circle cx="183.80" cy="890.35" r="2.6" fill="#EE4A1A" stroke="#000" stroke-width="0.8"/>
<circle cx="76.40" cy="902.20" r="2.6" fill="#000000" stroke="#000" stroke-width="0.8"/>
<circle cx="94.30" cy="876.69" r="2.6" fill="#000000" stroke="#000" stroke-width="0.8"/>
<circle cx="130.10" cy="847.53" r="2.6" fill="#000000" stroke="#000" stroke-width="0.8"/>
<circle cx="183.80" cy="818.97" r="2.6" fill="#000000" stroke="#000" stroke-width="0.8"/>
<line x1="199.20" y1="818.10" x2="199.20" y2="856.60" stroke="#222" stroke-width="1.0"/>
<text transform="translate(204.20,815.50) rotate(90)" font-size="11.9"><tspan font-style="italic">p</tspan>&lt;0.0001</text>
<line x1="218.40" y1="818.10" x2="218.40" y2="890.20" stroke="#222" stroke-width="1.0"/>
<text transform="translate(223.40,831.50) rotate(90)" font-size="11.9"><tspan font-style="italic">p</tspan>&lt;0.0001</text>
<text x="269.00" y="756.70" font-size="14.5" font-weight="bold">j</text>
<text x="388.60" y="734.90" font-size="11.75">pB3</text>
<line x1="312.10" y1="742.60" x2="326.10" y2="742.60" stroke="#111111" stroke-width="1.0"/>
<circle cx="319.10" cy="742.60" r="2.5" fill="#000000" stroke="#000" stroke-width="0.8"/>
<text x="333.10" y="746.20" font-size="11.75">WT</text>
<line x1="312.10" y1="755.40" x2="326.10" y2="755.40" stroke="#EE4A1A" stroke-width="1.0"/>
<circle cx="319.10" cy="755.40" r="2.5" fill="#EE4A1A" stroke="#000" stroke-width="0.8"/>
<text x="333.10" y="759.00" font-size="11.75">AGPS KO</text>
<line x1="312.10" y1="769.30" x2="326.10" y2="769.30" stroke="#F6913C" stroke-width="1.0"/>
<circle cx="319.10" cy="769.30" r="2.5" fill="#F6913C" stroke="#000" stroke-width="0.8"/>
<text x="333.10" y="772.90" font-size="11.75">AGPS KO + PE (18:0_20:4)</text>
<line x1="441.00" y1="742.60" x2="455.00" y2="742.60" stroke="#3344B0" stroke-width="1.0"/>
<circle cx="448.00" cy="742.60" r="2.5" fill="#0B1B8E" stroke="#000" stroke-width="0.8"/>
<text x="461.90" y="746.20" font-size="11.75">AGPS KO + PE (18:1p_20:4)</text>
<line x1="441.00" y1="755.10" x2="455.00" y2="755.10" stroke="#C8C8C8" stroke-width="1.0"/>
<circle cx="448.00" cy="755.10" r="2.5" fill="#C6C6C6" stroke="#000" stroke-width="0.8"/>
<text x="461.90" y="758.70" font-size="11.75">AGPS KO + PC (18:1p_20:4)</text>
<line x1="330.40" y1="783.50" x2="330.40" y2="903.00" stroke="#000" stroke-width="1.0"/>
<line x1="330.40" y1="903.00" x2="439.70" y2="903.00" stroke="#000" stroke-width="1.0"/>
<line x1="325.60" y1="903.00" x2="330.40" y2="903.00" stroke="#000" stroke-width="1.0"/>
<text x="324.00" y="906.60" font-size="12.0" text-anchor="end">0</text>
<line x1="325.60" y1="879.10" x2="330.40" y2="879.10" stroke="#000" stroke-width="1.0"/>
<text x="324.00" y="882.70" font-size="12.0" text-anchor="end">5</text>
<line x1="325.60" y1="855.20" x2="330.40" y2="855.20" stroke="#000" stroke-width="1.0"/>
<text x="324.00" y="858.80" font-size="12.0" text-anchor="end">10</text>
<line x1="325.60" y1="831.30" x2="330.40" y2="831.30" stroke="#000" stroke-width="1.0"/>
<text x="324.00" y="834.90" font-size="12.0" text-anchor="end">15</text>
<line x1="325.60" y1="807.40" x2="330.40" y2="807.40" stroke="#000" stroke-width="1.0"/>
<text x="324.00" y="811.00" font-size="12.0" text-anchor="end">20</text>
<line x1="325.60" y1="783.50" x2="330.40" y2="783.50" stroke="#000" stroke-width="1.0"/>
<text x="324.00" y="787.10" font-size="12.0" text-anchor="end">25</text>
<line x1="330.40" y1="903.00" x2="330.40" y2="907.60" stroke="#000" stroke-width="1.0"/>
<text x="330.40" y="918.30" font-size="12.0" text-anchor="middle">0</text>
<line x1="365.70" y1="903.00" x2="365.70" y2="907.60" stroke="#000" stroke-width="1.0"/>
<text x="365.70" y="918.30" font-size="12.0" text-anchor="middle">20</text>
<line x1="401.00" y1="903.00" x2="401.00" y2="907.60" stroke="#000" stroke-width="1.0"/>
<text x="401.00" y="918.30" font-size="12.0" text-anchor="middle">40</text>
<line x1="436.30" y1="903.00" x2="436.30" y2="907.60" stroke="#000" stroke-width="1.0"/>
<text x="436.30" y="918.30" font-size="12.0" text-anchor="middle">60</text>
<text transform="translate(291.70,846.30) rotate(-90)" font-size="11.65" text-anchor="middle">Hyaluronate probe</text>
<text transform="translate(304.50,841.70) rotate(-90)" font-size="11.65" text-anchor="middle">colocalized with EEA1 (%)</text>
<text x="390.60" y="932.00" font-size="11.5" text-anchor="middle">Time (min)</text>
<polyline points="330.40,903.00 348.05,902.04 383.35,899.65 436.30,895.11" fill="none" stroke="#EE4A1A" stroke-width="1.15"/>
<polyline points="330.40,903.00 348.05,897.26 383.35,882.92 436.30,869.92" fill="none" stroke="#F6913C" stroke-width="1.15"/>
<polyline points="330.40,903.00 348.05,893.44 383.35,875.28 436.30,855.92" fill="none" stroke="#C8C8C8" stroke-width="1.15"/>
<polyline points="330.40,903.00 348.05,889.62 383.35,862.37 436.30,834.17" fill="none" stroke="#111111" stroke-width="1.15"/>
<polyline points="330.40,903.00 348.05,883.40 383.35,848.03 436.30,807.40" fill="none" stroke="#3344B0" stroke-width="1.15"/>
<circle cx="348.05" cy="902.04" r="2.6" fill="#EE4A1A" stroke="#000" stroke-width="0.8"/>
<circle cx="383.35" cy="899.65" r="2.6" fill="#EE4A1A" stroke="#000" stroke-width="0.8"/>
<circle cx="436.30" cy="895.11" r="2.6" fill="#EE4A1A" stroke="#000" stroke-width="0.8"/>
<circle cx="348.05" cy="897.26" r="2.6" fill="#F6913C" stroke="#000" stroke-width="0.8"/>
<circle cx="383.35" cy="882.92" r="2.6" fill="#F6913C" stroke="#000" stroke-width="0.8"/>
<circle cx="436.30" cy="869.92" r="2.6" fill="#F6913C" stroke="#000" stroke-width="0.8"/>
<circle cx="348.05" cy="893.44" r="2.6" fill="#C6C6C6" stroke="#000" stroke-width="0.8"/>
<circle cx="383.35" cy="875.28" r="2.6" fill="#C6C6C6" stroke="#000" stroke-width="0.8"/>
<circle cx="436.30" cy="855.92" r="2.6" fill="#C6C6C6" stroke="#000" stroke-width="0.8"/>
<circle cx="330.40" cy="903.00" r="2.6" fill="#000000" stroke="#000" stroke-width="0.8"/>
<circle cx="348.05" cy="889.62" r="2.6" fill="#000000" stroke="#000" stroke-width="0.8"/>
<circle cx="383.35" cy="862.37" r="2.6" fill="#000000" stroke="#000" stroke-width="0.8"/>
<circle cx="436.30" cy="834.17" r="2.6" fill="#000000" stroke="#000" stroke-width="0.8"/>
<circle cx="348.05" cy="883.40" r="2.6" fill="#0B1B8E" stroke="#000" stroke-width="0.8"/>
<circle cx="383.35" cy="848.03" r="2.6" fill="#0B1B8E" stroke="#000" stroke-width="0.8"/>
<circle cx="436.30" cy="807.40" r="2.6" fill="#0B1B8E" stroke="#000" stroke-width="0.8"/>
<line x1="446.40" y1="806.40" x2="446.40" y2="894.70" stroke="#222" stroke-width="1.0"/>
<text transform="translate(450.40,826.50) rotate(90)" font-size="11.75"><tspan font-style="italic">p</tspan>&lt;0.0001</text>
<line x1="463.40" y1="833.40" x2="463.40" y2="894.70" stroke="#222" stroke-width="1.0"/>
<text transform="translate(467.40,841.00) rotate(90)" font-size="11.75"><tspan font-style="italic">p</tspan>&lt;0.0001</text>
<line x1="480.10" y1="854.90" x2="480.10" y2="894.70" stroke="#222" stroke-width="1.0"/>
<text transform="translate(484.40,852.20) rotate(90)" font-size="11.75"><tspan font-style="italic">p</tspan>&lt;0.0001</text>
<line x1="500.30" y1="869.40" x2="500.30" y2="894.70" stroke="#222" stroke-width="1.0"/>
<text transform="translate(504.70,861.00) rotate(90)" font-size="11.75"><tspan font-style="italic">p</tspan>&lt;0.0001</text>
<line x1="517.50" y1="878.70" x2="517.50" y2="894.70" stroke="#222" stroke-width="1.0"/>
<text transform="translate(522.30,860.70) rotate(90)" font-size="11.75"><tspan font-style="italic">p</tspan>&lt;0.0001</text>
</svg>
</body></html>
